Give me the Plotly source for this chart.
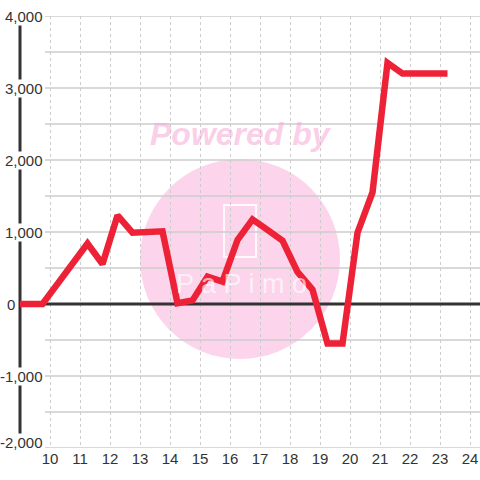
import plotly.graph_objects as go

# hourly series (half-hour steps)
hours = [9.0, 9.75, 10.25, 10.75, 11.25, 11.75, 12.25, 12.75, 13.25, 13.75,
         14.25, 14.75, 15.25, 15.75, 16.25, 16.75, 17.25, 17.75, 18.25, 18.75,
         19.25, 19.75, 20.25, 20.75, 21.25, 21.75, 22.25, 22.75, 23.25]
values = [0, 0, 280, 555, 840, 555, 1230, 990, 1005, 1010,
          10, 50, 380, 310, 890, 1175, 1030, 880, 445, 200,
          -550, -550, 990, 1550, 3350, 3200, 3200, 3200, 3200]

x_ticks = list(range(10, 25))
y_ticks = [4000, 3000, 2000, 1000, 0, -1000, -2000]
y_labels = ["4,000", "3,000", "2,000", "1,000", "0", "-1,000", "-2,000"]
y_grid = [v * 500 for v in range(-4, 9)]

W, H = 480, 480
TOP, BOT = 16, 448  # plot area in pixels


def px(x):
    return x / W


def py(y):
    return (BOT - y) / (BOT - TOP)


fig = go.Figure()
fig.add_trace(go.Scatter(
    x=hours, y=values, mode="lines",
    line=dict(color="#ee2236", width=6.5),
    hoverinfo="skip", showlegend=False,
))

shapes = []
# watermark disc + logo outline
shapes.append(dict(type="circle", xref="paper", yref="paper",
                   x0=px(140), x1=px(340), y0=py(359), y1=py(159),
                   fillcolor="#fcd5ec", line=dict(width=0), layer="below"))
shapes.append(dict(type="rect", xref="paper", yref="paper",
                   x0=px(224), x1=px(256), y0=py(257), y1=py(205),
                   line=dict(color="rgba(255,255,255,0.85)", width=2), layer="below"))
for v in y_grid:
    shapes.append(dict(type="line", xref="paper", yref="y",
                       x0=px(45), x1=1, y0=v, y1=v,
                       line=dict(color="#cccccc", width=1.5), layer="between"))
shapes.append(dict(type="line", xref="x", yref="y", x0=9, x1=25, y0=0, y1=0,
                   line=dict(color="#333333", width=3), layer="between"))
shapes.append(dict(type="line", xref="x", yref="y", x0=9, x1=9, y0=-2000, y1=4000,
                   line=dict(color="#333333", width=3), layer="between"))

annotations = []
for v, lab in zip(y_ticks, y_labels):
    annotations.append(dict(
        xref="paper", yref="y", x=px(16) if v == 0 else px(44), y=v,
        xanchor="right", yanchor="middle", text=lab, showarrow=False,
        yshift=6 if v == -2000 else 0,
        bgcolor=None if v == 0 else "white", borderpad=0,
        font=dict(family="Liberation Sans", size=15, color="#333333"),
    ))
annotations.append(dict(
    xref="paper", yref="paper", x=px(241), y=py(134), text="<b><i>Powered by</i></b>",
    showarrow=False, xanchor="center", yanchor="middle",
    font=dict(family="Liberation Sans", size=32, color="rgba(246,165,212,0.55)"),
))
annotations.append(dict(
    xref="paper", yref="paper", x=px(241), y=py(284), text="P a P i m o",
    showarrow=False, xanchor="center", yanchor="middle",
    font=dict(family="Liberation Sans", size=27, color="rgba(255,255,255,0.65)"),
))

fig.update_layout(
    width=W, height=H,
    margin=dict(l=0, r=0, t=TOP, b=H - BOT),
    plot_bgcolor="white", paper_bgcolor="white",
    shapes=shapes, annotations=annotations,
    xaxis=dict(range=[25 / 3, 73 / 3], tickvals=x_ticks, showgrid=True,
               gridcolor="#cccccc", griddash="3px,3px", gridwidth=1,
               zeroline=False, showline=False, ticks="",
               tickfont=dict(family="Liberation Sans", size=15, color="#333333")),
    yaxis=dict(range=[-2000, 4000], showgrid=False, zeroline=False,
               showticklabels=False, showline=False),
)

# drop the page's default body margin so the chart sits at the window corner
fig.write_html("out.html", config={"displayModeBar": False},
               post_script="document.body.style.margin='0px';")
